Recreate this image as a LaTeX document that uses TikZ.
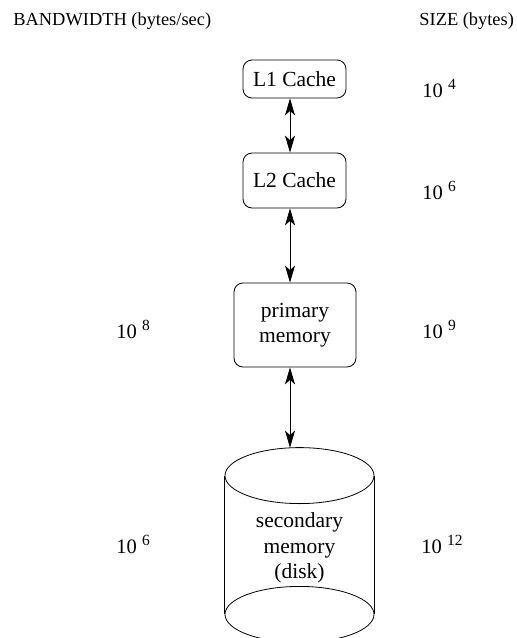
\documentclass[tikz,border=0pt]{standalone}
\usepackage{fontspec}
\setmainfont{Liberation Serif}
\usetikzlibrary{positioning,arrows.meta}

\newcommand{\tenpow}[1]{10 \raisebox{7.5pt}{\fontsize{15.5}{15.5}\selectfont #1}}

\begin{document}
\begin{tikzpicture}[x=1pt, y=-1pt, line width=0.8pt,
    >={Stealth[length=17pt, width=10pt, inset=4.5pt]},
    membox/.style={draw, rounded corners=9pt, align=center, inner sep=0pt,
        font=\fontsize{21.5}{24.5}\selectfont},
    hdr/.style={anchor=base west, inner sep=0pt, font=\fontsize{18.4}{22}\selectfont},
    amount/.style={anchor=base west, inner sep=0pt, font=\fontsize{20.5}{24}\selectfont}]
    \useasboundingbox (0,0) rectangle (517,638);

    % column headers
    \node[hdr] (bwhdr) at (13,25) {BANDWIDTH (bytes/sec)};
    \node[hdr] (szhdr) at (419,25) {SIZE (bytes)};

    % the hierarchy
    \node[membox, minimum width=103pt, minimum height=38pt] (l1) at (294.5,79) {L1 Cache};
    \node[membox, minimum width=103pt, minimum height=55pt] (l2) at (294.5,180.5) {L2 Cache};
    \node[membox, minimum width=122pt, minimum height=84pt] (prim) at (295,325) {primary\\memory};
    \node[align=center, inner sep=0pt, minimum width=149pt, minimum height=200pt,
        font=\fontsize{21.5}{25.5}\selectfont] (disk) at (299.5,548) {secondary\\memory\\(disk)};
    \draw ([yshift=-28pt]disk.north) ellipse [x radius=74.5pt, y radius=28pt];
    \draw ([yshift=34pt]disk.south) ellipse [x radius=74.5pt, y radius=28pt];
    \draw ([yshift=-28pt]disk.north west) -- ([yshift=34pt]disk.south west);
    \draw ([yshift=-28pt]disk.north east) -- ([yshift=34pt]disk.south east);

    \path[<->]
        ([xshift=-4.5pt]l1.south) edge ([xshift=-4.5pt]l2.north)
        ([xshift=-4.5pt]l2.south) edge ([xshift=-5pt]prim.north)
        ([xshift=-5pt]prim.south) edge ([xshift=-9.5pt]disk.north);

    % sizes and bandwidths
    \node[amount] (sz1) at (422,97) {\tenpow{4}};
    \node[amount] (sz2) at (422,199) {\tenpow{6}};
    \node[amount] (bw3) at (116,338) {\tenpow{8}};
    \node[amount] (sz3) at (422,338) {\tenpow{9}};
    \node[amount] (bw4) at (116,553) {\tenpow{6}};
    \node[amount] (sz4) at (421,553) {\tenpow{12}};
\end{tikzpicture}
\end{document}
